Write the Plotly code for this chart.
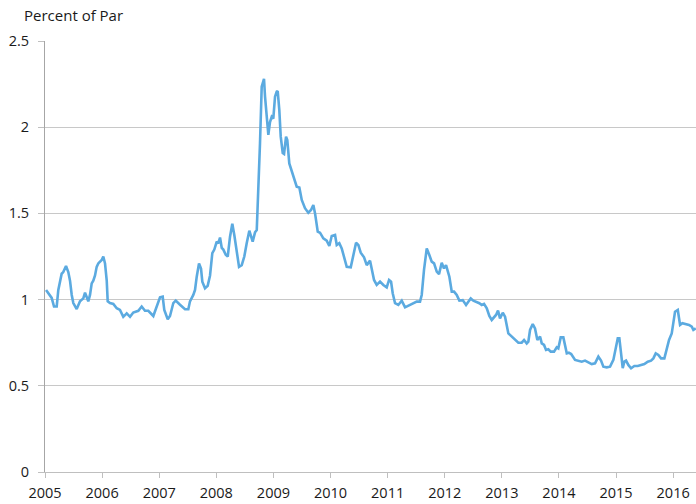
import plotly.graph_objects as go

# Time in fractional years, value in percent of par
years = [
    2005.018, 2005.058, 2005.088, 2005.117, 2005.158, 2005.205, 2005.233, 2005.292, 2005.320, 2005.368,
    2005.408, 2005.438, 2005.468, 2005.496, 2005.555, 2005.613, 2005.671, 2005.701, 2005.758, 2005.788,
    2005.818, 2005.846, 2005.876, 2005.905, 2005.933, 2005.963, 2005.993, 2006.021, 2006.051, 2006.081,
    2006.098, 2006.138, 2006.196, 2006.256, 2006.313, 2006.371, 2006.431, 2006.489, 2006.546, 2006.634,
    2006.693, 2006.751, 2006.809, 2006.897, 2006.956, 2007.014, 2007.061, 2007.089, 2007.149, 2007.189,
    2007.247, 2007.289, 2007.364, 2007.452, 2007.510, 2007.539, 2007.597, 2007.627, 2007.657, 2007.697,
    2007.732, 2007.755, 2007.802, 2007.849, 2007.890, 2007.930, 2007.965, 2008.007, 2008.035, 2008.065,
    2008.095, 2008.123, 2008.165, 2008.200, 2008.240, 2008.280, 2008.315, 2008.357, 2008.398, 2008.445,
    2008.490, 2008.532, 2008.578, 2008.637, 2008.678, 2008.708, 2008.736, 2008.765, 2008.795, 2008.823,
    2008.835, 2008.853, 2008.883, 2008.911, 2008.940, 2008.970, 2008.998, 2009.028, 2009.058, 2009.075,
    2009.103, 2009.128, 2009.163, 2009.186, 2009.221, 2009.243, 2009.278, 2009.320, 2009.349, 2009.378,
    2009.408, 2009.454, 2009.496, 2009.553, 2009.611, 2009.658, 2009.699, 2009.729, 2009.776, 2009.816,
    2009.874, 2009.933, 2009.979, 2010.021, 2010.079, 2010.109, 2010.154, 2010.196, 2010.236, 2010.284,
    2010.354, 2010.399, 2010.447, 2010.487, 2010.529, 2010.587, 2010.634, 2010.692, 2010.722, 2010.762,
    2010.809, 2010.867, 2010.925, 2010.984, 2011.025, 2011.060, 2011.089, 2011.130, 2011.187, 2011.247,
    2011.305, 2011.362, 2011.450, 2011.510, 2011.567, 2011.597, 2011.637, 2011.685, 2011.730, 2011.772,
    2011.813, 2011.860, 2011.900, 2011.947, 2011.987, 2012.023, 2012.063, 2012.081, 2012.123, 2012.163,
    2012.210, 2012.256, 2012.315, 2012.373, 2012.413, 2012.455, 2012.501, 2012.560, 2012.606, 2012.648,
    2012.688, 2012.736, 2012.781, 2012.823, 2012.863, 2012.898, 2012.933, 2012.968, 2013.016, 2013.056,
    2013.114, 2013.173, 2013.231, 2013.289, 2013.348, 2013.389, 2013.436, 2013.464, 2013.494, 2013.541,
    2013.581, 2013.622, 2013.669, 2013.699, 2013.739, 2013.774, 2013.814, 2013.856, 2013.914, 2013.961,
    2013.989, 2014.031, 2014.077, 2014.107, 2014.137, 2014.173, 2014.214, 2014.282, 2014.340, 2014.399,
    2014.457, 2014.515, 2014.574, 2014.632, 2014.690, 2014.737, 2014.778, 2014.837, 2014.895, 2014.953,
    2014.994, 2015.030, 2015.058, 2015.088, 2015.117, 2015.145, 2015.175, 2015.215, 2015.263, 2015.320,
    2015.380, 2015.438, 2015.496, 2015.555, 2015.613, 2015.653, 2015.695, 2015.741, 2015.788, 2015.846,
    2015.888, 2015.928, 2015.975, 2016.004, 2016.033, 2016.081, 2016.121, 2016.161, 2016.221, 2016.278,
    2016.326, 2016.354, 2016.396,
]

percent_of_par = [
    1.056, 1.040, 1.027, 1.010, 0.960, 0.960, 1.056, 1.150, 1.160, 1.195,
    1.160, 1.110, 1.027, 0.980, 0.945, 0.990, 1.007, 1.040, 0.990, 1.027,
    1.094, 1.110, 1.140, 1.190, 1.210, 1.220, 1.230, 1.250, 1.210, 1.110,
    0.990, 0.980, 0.975, 0.950, 0.940, 0.900, 0.920, 0.900, 0.925, 0.935,
    0.960, 0.935, 0.935, 0.905, 0.960, 1.013, 1.017, 0.940, 0.886, 0.905,
    0.980, 0.994, 0.970, 0.944, 0.944, 0.990, 1.027, 1.056, 1.133, 1.210,
    1.180, 1.104, 1.066, 1.080, 1.140, 1.270, 1.290, 1.336, 1.326, 1.360,
    1.300, 1.290, 1.260, 1.250, 1.365, 1.440, 1.375, 1.270, 1.190, 1.200,
    1.250, 1.327, 1.400, 1.336, 1.390, 1.404, 1.616, 1.907, 2.235, 2.274,
    2.280, 2.177, 2.040, 1.955, 2.030, 2.060, 2.050, 2.177, 2.206, 2.210,
    2.100, 1.945, 1.850, 1.845, 1.945, 1.925, 1.790, 1.750, 1.713, 1.684,
    1.655, 1.650, 1.578, 1.530, 1.504, 1.520, 1.549, 1.500, 1.394, 1.388,
    1.355, 1.342, 1.311, 1.369, 1.375, 1.317, 1.327, 1.297, 1.240, 1.190,
    1.187, 1.250, 1.330, 1.317, 1.272, 1.245, 1.200, 1.226, 1.180, 1.114,
    1.085, 1.104, 1.085, 1.071, 1.114, 1.104, 1.037, 0.979, 0.969, 0.994,
    0.955, 0.963, 0.975, 0.988, 0.988, 1.027, 1.172, 1.297, 1.259, 1.220,
    1.210, 1.162, 1.148, 1.214, 1.181, 1.200, 1.153, 1.133, 1.046, 1.046,
    1.027, 0.994, 0.997, 0.969, 0.988, 1.007, 0.994, 0.988, 0.979, 0.969,
    0.975, 0.949, 0.905, 0.882, 0.897, 0.911, 0.936, 0.891, 0.924, 0.901,
    0.804, 0.785, 0.766, 0.750, 0.750, 0.766, 0.746, 0.756, 0.824, 0.858,
    0.833, 0.766, 0.785, 0.746, 0.737, 0.708, 0.712, 0.698, 0.698, 0.723,
    0.717, 0.781, 0.781, 0.727, 0.688, 0.692, 0.684, 0.650, 0.646, 0.640,
    0.646, 0.634, 0.626, 0.630, 0.669, 0.646, 0.611, 0.607, 0.611, 0.650,
    0.727, 0.776, 0.776, 0.688, 0.602, 0.640, 0.646, 0.621, 0.602, 0.615,
    0.615, 0.621, 0.626, 0.640, 0.646, 0.659, 0.688, 0.679, 0.659, 0.659,
    0.708, 0.766, 0.804, 0.863, 0.930, 0.940, 0.853, 0.863, 0.857, 0.853,
    0.843, 0.824, 0.833,
]

year_ticks = [2005, 2006, 2007, 2008, 2009, 2010, 2011, 2012, 2013, 2014, 2015, 2016]
year_labels = [str(y) for y in year_ticks]
value_ticks = [0, 0.5, 1, 1.5, 2, 2.5]
value_labels = ["0", "0.5", "1", "1.5", "2", "2.5"]

FONT = "Open Sans, Liberation Sans, Arial, sans-serif"
TEXT = "#1A1A1A"

fig = go.Figure(
    go.Scatter(
        x=years, y=percent_of_par, mode="lines",
        line=dict(color="#5BAAE0", width=2.6),
        hoverinfo="x+y", showlegend=False,
    )
)

fig.update_layout(
    width=696, height=504,
    margin=dict(l=45, r=0, t=41, b=32, autoexpand=False),
    paper_bgcolor="white", plot_bgcolor="white",
    font=dict(family=FONT, size=14, color=TEXT),
    xaxis=dict(
        range=[2005, 2016.40],
        tickmode="array", tickvals=year_ticks, ticktext=year_labels,
        showgrid=False, zeroline=False, automargin=False,
        showline=True, linecolor="#BFBFBF", linewidth=1,
        ticks="outside", ticklen=5, tickcolor="#BFBFBF", tickwidth=1,
        ticklabelstandoff=3,
        tickfont=dict(size=14.5, color=TEXT),
    ),
    yaxis=dict(
        range=[0, 2.5],
        tickmode="array", tickvals=value_ticks, ticktext=value_labels,
        showgrid=True, gridcolor="#C8C8C8", gridwidth=1,
        zeroline=False, automargin=False,
        showline=True, linecolor="#A6A6A6", linewidth=1,
        ticks="outside", ticklen=6, tickcolor="#C0C0C0", tickwidth=1,
        ticklabelstandoff=6,
        tickfont=dict(size=14.5, color=TEXT),
    ),
    annotations=[
        dict(
            text="Percent of Par", xref="paper", yref="paper",
            x=-23 / 651, y=1 + 26 / 431, xanchor="left", yanchor="middle",
            showarrow=False, font=dict(family=FONT, size=15, color=TEXT),
        )
    ],
)

fig.write_html(
    "out.html",
    config={"displayModeBar": False},
    post_script="document.body.style.margin='0';",
)
